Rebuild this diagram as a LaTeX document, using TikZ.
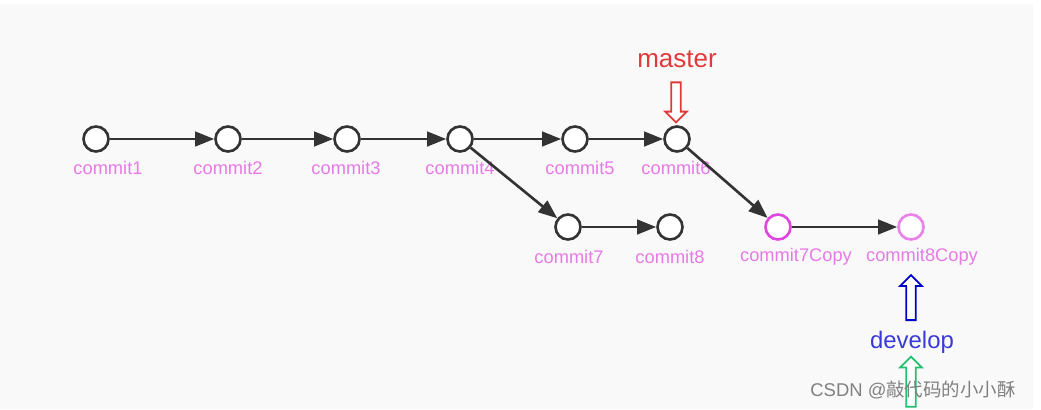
\documentclass[tikz,border=0pt]{standalone}
\usepackage{fontspec}
\setmainfont{Liberation Sans}
\newfontfamily\cjk{Noto Sans CJK SC}
\usetikzlibrary{arrows.meta,shapes.arrows}
\definecolor{bgray}{HTML}{F9F9F9}
\definecolor{ink}{HTML}{333333}
\definecolor{pinktxt}{HTML}{E67AE6}
\definecolor{magring}{HTML}{E045E0}
\definecolor{magring2}{HTML}{EA82EA}
\definecolor{mred}{HTML}{E03A3A}
\definecolor{dblue}{HTML}{3A3AD8}
\definecolor{ablue}{HTML}{0000C8}
\definecolor{agreen}{HTML}{22C070}
\begin{document}
\begin{tikzpicture}[x=0.02cm,y=-0.02cm,>={Triangle[length=0.38cm,width=0.29cm]},
  commit/.style={draw=ink,circle,fill=white,line width=1.5pt,minimum size=0.5cm,inner sep=0pt},
  clabel/.style={text=pinktxt,font=\fontsize{10.4}{12}\selectfont,inner sep=0pt},
  ptr/.style={single arrow,draw,fill=white,line width=1pt,rotate=#1,inner sep=2.2pt,
    single arrow head extend=0.12cm,minimum height=0.84cm},
  link/.style={->,draw=ink,line width=1.5pt}]
\useasboundingbox (0,0) rectangle (1041,409);
\fill[bgray] (0,4) rectangle (1033,409);
% commits
\node[commit] (c1) at (96,139) {};
\node[commit] (c2) at (228,139) {};
\node[commit] (c3) at (347,139) {};
\node[commit] (c4) at (460,139) {};
\node[commit] (c5) at (575,139) {};
\node[commit] (c6) at (677,139) {};
\node[commit] (c7) at (568,227) {};
\node[commit] (c8) at (670,227) {};
\node[commit,draw=magring] (c7c) at (778,227) {};
\node[commit,draw=magring2] (c8c) at (911,227) {};
% names
\node[clabel] (n1) at (108,168) {commit1};
\node[clabel] (n2) at (228,168) {commit2};
\node[clabel] (n3) at (346,168) {commit3};
\node[clabel] (n4) at (460,168) {commit4};
\node[clabel] (n5) at (580,168) {commit5};
\node[clabel] (n6) at (676,168) {commit6};
\node[clabel] (n7) at (569,257) {commit7};
\node[clabel] (n8) at (670,257) {commit8};
\node[clabel] (n7c) at (796,257) {commit7Copy};
\node[clabel] (n8c) at (922,257) {commit8Copy};
\foreach \a/\b in {c1/c2,c2/c3,c3/c4,c4/c5,c5/c6,c4/c7,c7/c8,c6/c7c,c7c/c8c}
  \draw[link] (\a)--(\b);
% branch pointers
\node[text=mred,font=\fontsize{14.8}{16}\selectfont] (master) at (677,59) {master};
\node[ptr=-90,draw=mred,minimum height=0.8cm] (pm) at (676,100) {};
\node[ptr=90,draw=ablue,minimum height=0.9cm] (pd) at (911,300) {};
\node[text=dblue,font=\fontsize{13.6}{15}\selectfont] (develop) at (912,342) {develop};
\node[ptr=90,draw=agreen,minimum height=1cm] (ph) at (911,384) {};
\node[text=gray,font=\fontsize{10.5}{12}\selectfont] (mark) at (913,390) {CSDN @{\cjk 敲代码的小小酥}};
\end{tikzpicture}
\end{document}
